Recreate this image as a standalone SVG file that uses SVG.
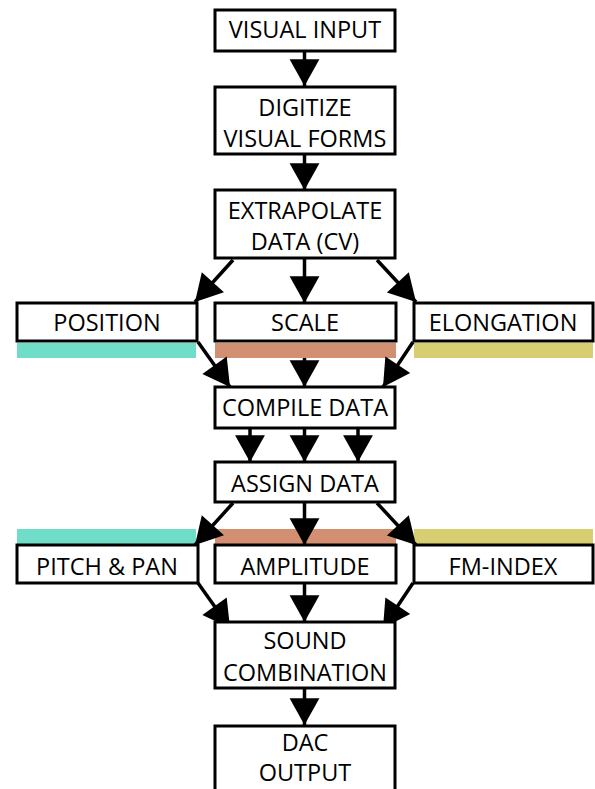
<svg xmlns="http://www.w3.org/2000/svg" width="595" height="789" viewBox="0 0 595 789">
  <defs>
    <marker id="head" markerUnits="userSpaceOnUse" markerWidth="30" markerHeight="32" viewBox="-26 -15 28 30" refX="0" refY="0" orient="auto">
      <path d="M0,0 L-25,-14 L-25,14 Z" fill="#000"/>
    </marker>
    <style>
      .box { fill: #fff; stroke: #000; stroke-width: 3; }
      .lbl { font-family: "Open Sans", "Liberation Sans", sans-serif; font-size: 23.5px; fill: #000; text-anchor: middle; }
      .edge { stroke: #000; stroke-width: 3.5; fill: none; marker-end: url(#head); }
      .teal { fill: #6FDDC8; }
      .clay { fill: #D28F72; }
      .olive { fill: #D6CE70; }
    </style>
  </defs>

  <!-- colour bands under the measured features and over the mapped parameters -->
  <g id="bands">
    <rect class="teal" x="17" y="343" width="179" height="15"/>
    <rect class="clay" x="215" y="343" width="181" height="15"/>
    <rect class="olive" x="414" y="343" width="179" height="15"/>
    <rect class="teal" x="17" y="529" width="179" height="15"/>
    <rect class="clay" x="215" y="529" width="181" height="15"/>
    <rect class="olive" x="414" y="529" width="179" height="15"/>
  </g>

  <g id="connectors">
    <line class="edge" x1="304.5" y1="51" x2="304.5" y2="86"/>
    <line class="edge" x1="304.5" y1="154" x2="304.5" y2="190"/>
    <line class="edge" x1="233" y1="260" x2="195" y2="302"/>
    <line class="edge" x1="304.5" y1="258" x2="304.5" y2="303"/>
    <line class="edge" x1="377" y1="260" x2="416" y2="302"/>
    <line class="edge" x1="198" y1="342" x2="230" y2="387"/>
    <line class="edge" x1="304.5" y1="358" x2="304.5" y2="387"/>
    <line class="edge" x1="413" y1="342" x2="383" y2="387"/>
    <line class="edge" x1="250" y1="428" x2="250" y2="462"/>
    <line class="edge" x1="304.5" y1="428" x2="304.5" y2="462"/>
    <line class="edge" x1="358" y1="428" x2="358" y2="462"/>
    <line class="edge" x1="233" y1="503" x2="195" y2="545"/>
    <line class="edge" x1="304.5" y1="502" x2="304.5" y2="545"/>
    <line class="edge" x1="377" y1="503" x2="416" y2="545"/>
    <line class="edge" x1="198" y1="583" x2="230" y2="628"/>
    <line class="edge" x1="304.5" y1="583" x2="304.5" y2="622"/>
    <line class="edge" x1="413" y1="583" x2="383" y2="628"/>
    <line class="edge" x1="304.5" y1="688" x2="304.5" y2="725"/>
  </g>

  <g id="visual-input">
    <rect class="box" x="215" y="10" width="180" height="41"/>
    <text class="lbl" x="305" y="38">VISUAL INPUT</text>
  </g>
  <g id="digitize">
    <rect class="box" x="215" y="87" width="180" height="67"/>
    <text class="lbl" x="305" y="116">DIGITIZE</text>
    <text class="lbl" x="305" y="147">VISUAL FORMS</text>
  </g>
  <g id="extrapolate">
    <rect class="box" x="215" y="190" width="180" height="68"/>
    <text class="lbl" x="305" y="219">EXTRAPOLATE</text>
    <text class="lbl" x="305" y="250">DATA (CV)</text>
  </g>
  <g id="position">
    <rect class="box" x="17" y="303" width="180" height="38"/>
    <text class="lbl" x="107" y="331">POSITION</text>
  </g>
  <g id="scale">
    <rect class="box" x="215" y="303" width="181" height="38"/>
    <text class="lbl" x="305" y="331">SCALE</text>
  </g>
  <g id="elongation">
    <rect class="box" x="414" y="303" width="179" height="38"/>
    <text class="lbl" x="503" y="331">ELONGATION</text>
  </g>
  <g id="compile">
    <rect class="box" x="215" y="387" width="180" height="41"/>
    <text class="lbl" x="305" y="416">COMPILE DATA</text>
  </g>
  <g id="assign">
    <rect class="box" x="215" y="462" width="180" height="40"/>
    <text class="lbl" x="305" y="492">ASSIGN DATA</text>
  </g>
  <g id="pitch-pan">
    <rect class="box" x="17" y="545" width="181" height="38"/>
    <text class="lbl" x="107" y="575">PITCH &amp; PAN</text>
  </g>
  <g id="amplitude">
    <rect class="box" x="215" y="545" width="181" height="38"/>
    <text class="lbl" x="305" y="575">AMPLITUDE</text>
  </g>
  <g id="fm-index">
    <rect class="box" x="414" y="545" width="179" height="38"/>
    <text class="lbl" x="503" y="575">FM-INDEX</text>
  </g>
  <g id="sound-combination">
    <rect class="box" x="215" y="622" width="180" height="66"/>
    <text class="lbl" x="305" y="649">SOUND</text>
    <text class="lbl" x="305" y="681">COMBINATION</text>
  </g>
  <g id="dac-output">
    <rect class="box" x="215" y="726" width="180" height="80"/>
    <text class="lbl" x="305" y="751">DAC</text>
    <text class="lbl" x="305" y="781">OUTPUT</text>
  </g>
</svg>
